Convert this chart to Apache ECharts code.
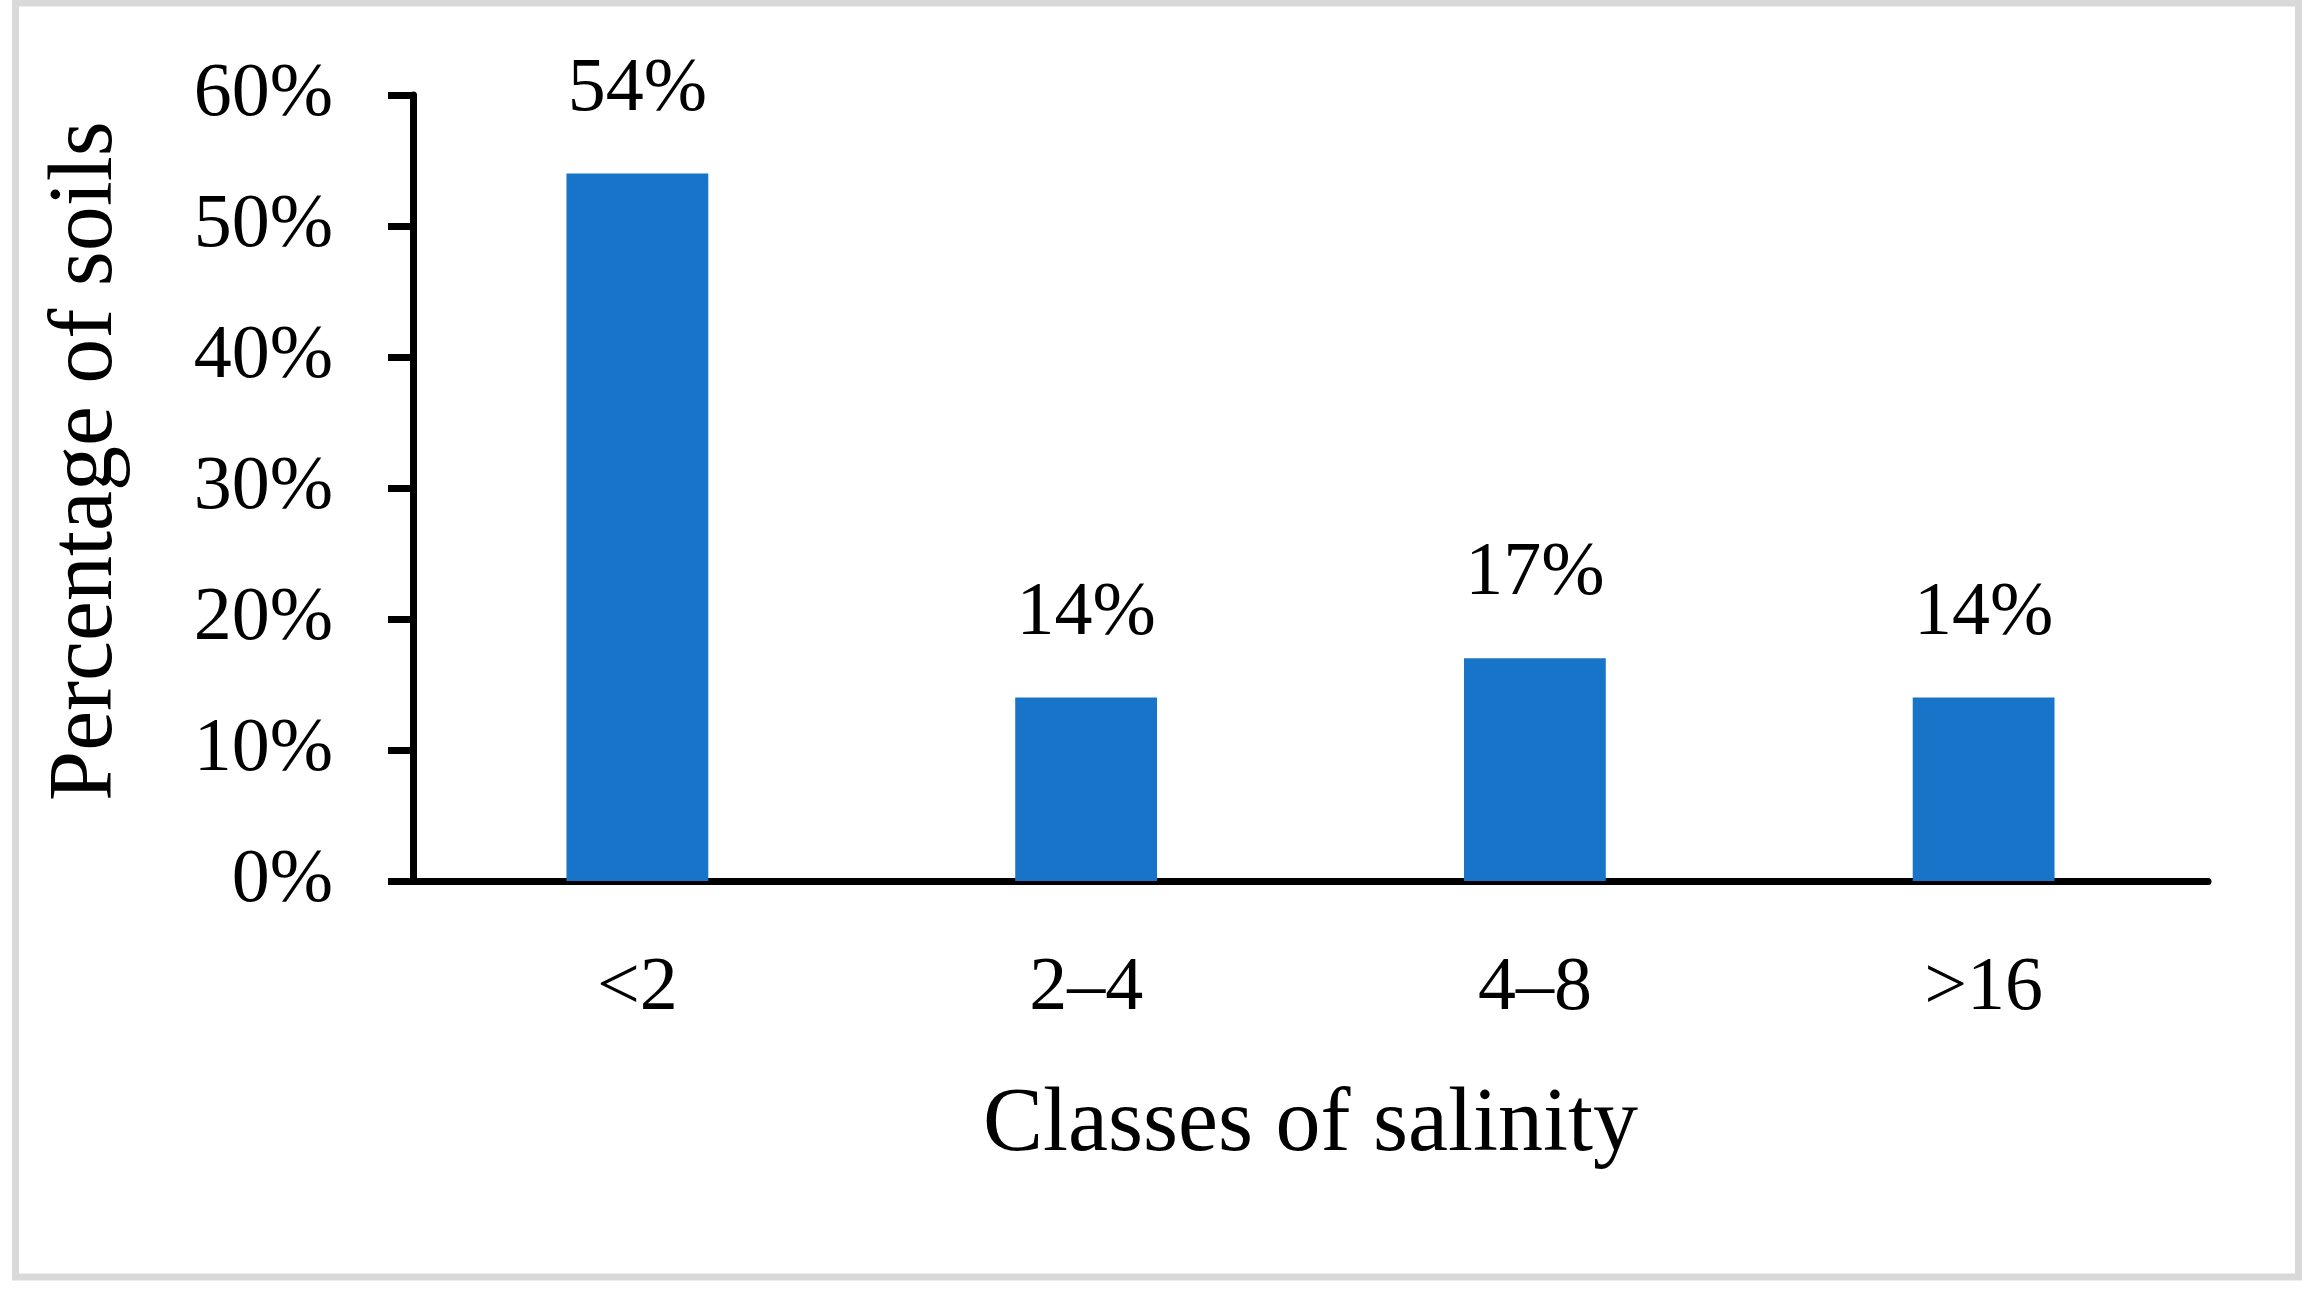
<!DOCTYPE html>
<html>
<head>
<meta charset="utf-8">
<script src="https://cdn.jsdelivr.net/npm/echarts@6/dist/echarts.min.js"></script>
<style>
html,body{margin:0;padding:0;background:#fff;}
#chart{width:2316px;height:1296px;}
</style>
</head>
<body>
<div id="chart"></div>
<script>
const categories = ['<2', '2\u20134', '4\u20138', '>16'];
const values = [54, 14, 17, 14];
const yTicks = {min: 0, max: 60, interval: 10};
const xTitle = 'Classes of salinity';
const yTitle = 'Percentage of soils';

const FONT = '"Palatino Linotype", "Book Antiqua", Palatino, "Liberation Serif", serif';
const chart = echarts.init(document.getElementById('chart'), null, {renderer: 'canvas'});
chart.setOption({
  backgroundColor: '#ffffff',
  animation: false,
  graphic: [{
    type: 'rect',
    silent: true,
    shape: {x: 15.5, y: 3, width: 2283, height: 1274},
    style: {fill: 'none', stroke: '#d9d9d9', lineWidth: 7}
  }],
  grid: {left: 413, right: 108, top: 95, bottom: 415, containLabel: false},
  xAxis: {
    type: 'category',
    data: categories,
    name: xTitle,
    nameLocation: 'middle',
    nameGap: 200,
    nameTextStyle: {fontFamily: FONT, fontSize: 90, color: '#000'},
    axisLine: {show: true, lineStyle: {color: '#000', width: 7}},
    axisTick: {show: false},
    axisLabel: {fontFamily: FONT, fontSize: 76, color: '#000', margin: 70},
    splitLine: {show: false}
  },
  yAxis: {
    type: 'value',
    min: yTicks.min,
    max: yTicks.max,
    interval: yTicks.interval,
    name: yTitle,
    nameLocation: 'middle',
    nameGap: 281,
    nameTextStyle: {fontFamily: FONT, fontSize: 90, color: '#000', padding: [0, 0, 0, 54]},
    axisLine: {show: true, lineStyle: {color: '#000', width: 7}},
    axisTick: {show: true, inside: false, length: 25, lineStyle: {color: '#000', width: 7}},
    axisLabel: {fontFamily: FONT, fontSize: 76, color: '#000', margin: 80, formatter: '{value}%'},
    splitLine: {show: false}
  },
  series: [{
    type: 'bar',
    data: values,
    barWidth: '31.6%',
    itemStyle: {color: '#1874c8'},
    label: {
      show: true,
      position: 'top',
      distance: 46,
      formatter: '{c}%',
      fontFamily: FONT,
      fontSize: 76,
      color: '#000'
    }
  }]
});
</script>
</body>
</html>
